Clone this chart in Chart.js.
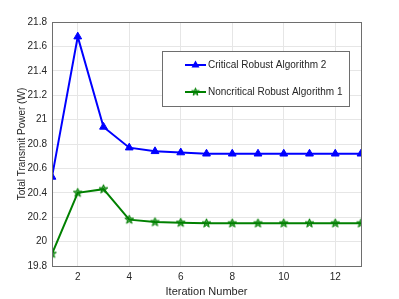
<!DOCTYPE html>
<html>
<head>
<meta charset="utf-8">
<script src="https://cdn.jsdelivr.net/npm/chart.js@4"></script>
<style>
  html, body { margin: 0; padding: 0; background: #fff; }
  #wrap { width: 399px; height: 299px; }
</style>
</head>
<body>
<div id="wrap"><canvas id="powerChart" width="399" height="299"></canvas></div>
<script>
// 반복 횟수별 총 송신 전력
const iterations = [1, 2, 3, 4, 5, 6, 7, 8, 9, 10, 11, 12, 13];
const criticalAlg2 = [20.53, 21.68, 20.94, 20.77, 20.74, 20.73, 20.72, 20.72, 20.72, 20.72, 20.72, 20.72, 20.72];
const noncriticalAlg1 = [19.90, 20.40, 20.43, 20.18, 20.16, 20.155, 20.15, 20.15, 20.15, 20.15, 20.15, 20.15, 20.15];
const xTicks = [2, 4, 6, 8, 10, 12];
const yTicks = [19.8, 20, 20.2, 20.4, 20.6, 20.8, 21, 21.2, 21.4, 21.6, 21.8];

const FONT = 'Liberation Sans, Arial, sans-serif';
const TXT = '#262626';

// 오각별 마커 (MATLAB 'p' 스타일)
function makeStar(color, r) {
  const c = document.createElement('canvas');
  const s = Math.ceil(r * 2 + 3);
  c.width = s; c.height = s;
  const g = c.getContext('2d');
  const cx = s / 2, cy = s / 2;
  g.beginPath();
  for (let i = 0; i < 10; i++) {
    const rad = i % 2 === 0 ? r : r * 0.42;
    const a = -Math.PI / 2 + i * Math.PI / 5;
    const px = cx + rad * Math.cos(a), py = cy + rad * Math.sin(a);
    if (i === 0) g.moveTo(px, py); else g.lineTo(px, py);
  }
  g.closePath();
  g.fillStyle = 'rgba(0,128,0,0.7)';
  g.fill();
  g.strokeStyle = color;
  g.lineWidth = 1;
  g.stroke();
  return c;
}
const starImg = makeStar('#008000', 4.6);
const legendStar = makeStar('#008000', 4);

// 축 박스 테두리
const frame = {
  id: 'frame',
  afterDatasetsDraw(chart) {
    const { ctx, chartArea: a } = chart;
    ctx.save();
    ctx.strokeStyle = '#6e6e6e';
    ctx.lineWidth = 1;
    ctx.strokeRect(Math.round(a.left) + 0.5, Math.round(a.top) + 0.5,
      Math.round(a.right - a.left), Math.round(a.bottom - a.top));
    ctx.restore();
  },
};

// 플롯 내부 범례 박스
const insideLegend = {
  id: 'insideLegend',
  afterDraw(chart) {
    const { ctx } = chart;
    const x0 = 162, y0 = 51, w = 187, h = 55;
    ctx.save();
    ctx.fillStyle = '#fff';
    ctx.fillRect(x0, y0, w, h);
    ctx.strokeStyle = '#6e6e6e';
    ctx.lineWidth = 1;
    ctx.strokeRect(x0 + 0.5, y0 + 0.5, w, h);
    chart.data.datasets.forEach((ds, i) => {
      const y = y0 + 14 + i * 27;
      ctx.strokeStyle = ds.borderColor;
      ctx.lineWidth = 2;
      ctx.beginPath();
      ctx.moveTo(185, y);
      ctx.lineTo(206, y);
      ctx.stroke();
      if (i === 0) {
        ctx.fillStyle = ds.borderColor;
        ctx.beginPath();
        ctx.moveTo(195.5, y - 4.5);
        ctx.lineTo(199.5, y + 2.5);
        ctx.lineTo(191.5, y + 2.5);
        ctx.closePath();
        ctx.fill();
      } else {
        ctx.drawImage(legendStar, 195.5 - legendStar.width / 2, y - legendStar.height / 2);
      }
      ctx.fillStyle = TXT;
      ctx.font = '10px ' + FONT;
      ctx.textBaseline = 'middle';
      ctx.fillText(ds.label, 208, y);
    });
    ctx.restore();
  },
};

new Chart(document.getElementById('powerChart'), {
  type: 'line',
  data: {
    labels: iterations,
    datasets: [
      {
        label: 'Critical Robust Algorithm 2',
        data: criticalAlg2,
        borderColor: '#0000ff',
        backgroundColor: '#0000ff',
        borderWidth: 2,
        pointStyle: 'triangle',
        pointRadius: 4.5,
        pointBorderWidth: 1,
        tension: 0,
        fill: false,
      },
      {
        label: 'Noncritical Robust Algorithm 1',
        data: noncriticalAlg1,
        borderColor: '#008000',
        backgroundColor: '#008000',
        borderWidth: 2,
        pointStyle: starImg,
        tension: 0,
        fill: false,
      },
    ],
  },
  options: {
    responsive: false,
    animation: false,
    layout: { padding: { left: 0, right: 38, top: 22, bottom: 0 } },
    plugins: { legend: { display: false }, tooltip: { enabled: false } },
    scales: {
      x: {
        type: 'linear',
        min: 1,
        max: 13,
        afterBuildTicks: s => { s.ticks = xTicks.map(v => ({ value: v })); },
        afterFit: s => { s.height = 33; },
        grid: { color: '#e6e6e6', drawTicks: false },
        border: { display: false },
        ticks: { color: TXT, font: { family: FONT, size: 10 }, padding: 5, maxRotation: 0 },
        title: { display: true, text: 'Iteration Number', color: TXT, font: { family: FONT, size: 11 }, padding: { top: 0, bottom: 0 } },
      },
      y: {
        min: 19.8,
        max: 21.8,
        afterBuildTicks: s => { s.ticks = yTicks.map(v => ({ value: v })); },
        afterFit: s => { s.width = 52; },
        grid: { color: '#e6e6e6', drawTicks: false },
        border: { display: false },
        ticks: {
          color: TXT,
          font: { family: FONT, size: 10 },
          padding: 5,
          callback: v => String(Math.round(v * 10) / 10),
        },
        title: { display: true, text: 'Total Transmit Power (W)', color: TXT, font: { family: FONT, size: 10 }, padding: { top: 16, bottom: 0 } },
      },
    },
  },
  plugins: [frame, insideLegend],
});
</script>
</body>
</html>
